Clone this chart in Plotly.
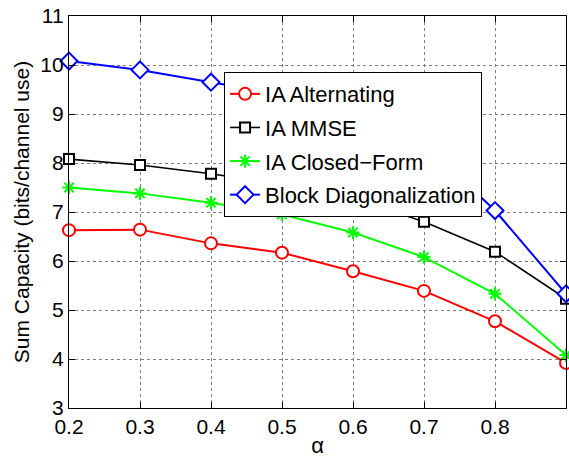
import plotly.graph_objects as go

# alpha values on the horizontal axis
alpha = [0.2, 0.3, 0.4, 0.5, 0.6, 0.7, 0.8, 0.9]

# sum capacity (bits/channel use) for each scheme
ia_alternating = [6.63, 6.64, 6.36, 6.17, 5.79, 5.39, 4.77, 3.92]
ia_mmse = [8.08, 7.96, 7.78, 7.56, 7.28, 6.80, 6.19, 5.23]
ia_closed_form = [7.50, 7.38, 7.19, 6.95, 6.58, 6.08, 5.33, 4.08]
block_diag = [10.08, 9.90, 9.65, 9.40, 9.00, 8.40, 7.03, 5.33]

x_ticks = [0.2, 0.3, 0.4, 0.5, 0.6, 0.7, 0.8]
y_ticks = [3, 4, 5, 6, 7, 8, 9, 10, 11]

series = [
    ("IA Alternating", ia_alternating, "#ff0000", "circle", 12, 2.0, "white"),
    ("IA MMSE", ia_mmse, "#000000", "square", 10, 1.6, "white"),
    ("IA Closed\u2212Form", ia_closed_form, "#00ff00", "asterisk-open", 11, 2.0, None),
    ("Block Diagonalization", block_diag, "#0000ff", "diamond", 13, 2.0, "white"),
]

fig = go.Figure()
for i, (name, ys, color, symbol, size, lw, fill) in enumerate(series):
    marker = dict(symbol=symbol, size=size, line=dict(color=color, width=2))
    marker["color"] = fill if fill else color
    fig.add_trace(go.Scatter(
        x=alpha, y=ys, name=name, mode="lines+markers",
        line=dict(color=color, width=lw),
        marker=marker, cliponaxis=False,
        legendgroup=f"g{i}",
    ))

font_family = "Liberation Sans, Arial, sans-serif"
axis_common = dict(
    showline=True, linecolor="black", linewidth=1.3, mirror="ticks",
    ticks="inside", ticklen=6, tickcolor="black", tickwidth=1,
    showgrid=True, gridcolor="#7f7f7f", griddash="dot", gridwidth=1,
    zeroline=False, tickfont=dict(size=21, color="black", family=font_family),
)

fig.update_layout(
    width=569, height=459,
    margin=dict(l=69, r=3, t=16, b=51),
    paper_bgcolor="white", plot_bgcolor="white",
    font=dict(family=font_family, color="black"),
    xaxis=dict(range=[0.2, 0.9], tickvals=x_ticks,
               ticktext=[f"{v:.1f}" for v in x_ticks],
               title=dict(text="\u03b1", font=dict(size=22), standoff=0),
               **axis_common),
    yaxis=dict(range=[3, 11], tickvals=y_ticks,
               title=dict(text="Sum Capacity (bits/channel use)",
                          font=dict(size=21), standoff=4),
               **axis_common),
    legend=dict(
        x=0.312, y=0.857, xanchor="left", yanchor="top",
        bgcolor="white", bordercolor="black", borderwidth=1,
        font=dict(size=22, color="black", family=font_family),
        itemwidth=30, tracegroupgap=2,
    ),
    showlegend=True,
)

fig.write_html("out.html")
